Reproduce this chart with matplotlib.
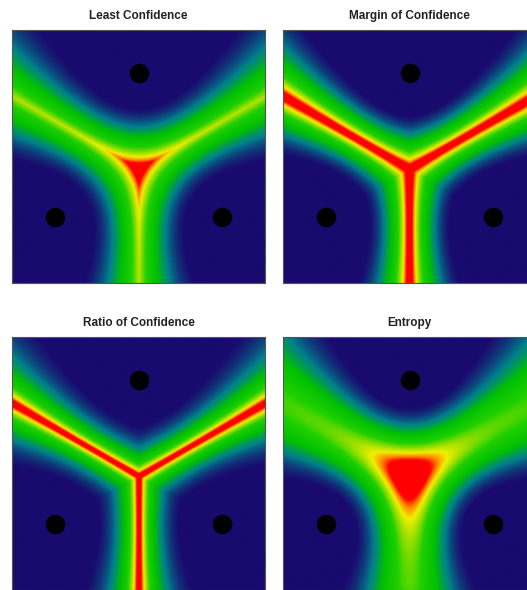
import numpy as np
import matplotlib
matplotlib.use("Agg")
import matplotlib.pyplot as plt
from matplotlib.colors import LinearSegmentedColormap

# ---- data ----
titles = ["Least Confidence", "Margin of Confidence", "Ratio of Confidence", "Entropy"]
centers_x = [5.0, 1.7, 8.3]
centers_y = [8.3, 2.6, 2.6]
panel_sharpness = [0.7, 0.65, 0.9, 0.9]
panel_gamma = [1.6, 2.2, 1.1, 1.5]
extent_min, extent_max = 0.0, 10.0

# colormap stops
cmap_stops = [0.0, 0.04, 0.16, 0.30, 0.50, 0.63, 0.72, 0.80, 0.86, 1.0]
cmap_colors = ["#190a6e", "#190a6e", "#00808c", "#00c000", "#20d000", "#a0e000",
               "#f0f000", "#ff8000", "#ff0000", "#ff0000"]
cmap = LinearSegmentedColormap.from_list("unc", list(zip(cmap_stops, cmap_colors)))

n = 400
xs = np.linspace(extent_min, extent_max, n)
ys = np.linspace(extent_min, extent_max, n)
X, Y = np.meshgrid(xs, ys)
cx = np.array(centers_x)[:, None, None]
cy = np.array(centers_y)[:, None, None]
D = np.sqrt((X - cx) ** 2 + (Y - cy) ** 2)
kc = len(centers_x)


def probs(sharp):
    logits = -sharp * D
    P = np.exp(logits - logits.max(axis=0))
    return P / P.sum(axis=0)


def score(i, P):
    Ps = np.sort(P, axis=0)[::-1]
    p1, p2 = Ps[0], Ps[1]
    if i == 0:
        return (1 - p1) * kc / (kc - 1)
    if i == 1:
        return 1 - (p1 - p2)
    if i == 2:
        return p2 / p1
    return -(P * np.log(P + 1e-12)).sum(axis=0) / np.log(kc)


W, H = 527, 590
fig = plt.figure(figsize=(W / 100, H / 100), dpi=100)
size = 253
positions = [(12, 30), (283, 30), (12, 337), (283, 337)]
for i, ((px, py), title) in enumerate(zip(positions, titles)):
    Z = score(i, probs(panel_sharpness[i]))
    Z = (Z - Z.min()) / (Z.max() - Z.min())
    Z = Z ** panel_gamma[i]
    ax = fig.add_axes([px / W, (H - py - size) / H, size / W, size / H])
    ax.imshow(Z, origin="lower", extent=[extent_min, extent_max, extent_min, extent_max],
              cmap=cmap, vmin=0, vmax=1, interpolation="bilinear", aspect="auto")
    ax.plot(centers_x, centers_y, "o", color="black", markersize=13)
    ax.set_xlim(extent_min, extent_max)
    ax.set_ylim(extent_min, extent_max)
    ax.set_xticks([])
    ax.set_yticks([])
    for s in ax.spines.values():
        s.set_linewidth(0.8)
        s.set_color("#555555")
    ax.set_title(title, fontsize=8.5, fontweight="bold", family="Liberation Sans",
                 color="#222222", pad=8)

fig.savefig("out.png", dpi=100)
